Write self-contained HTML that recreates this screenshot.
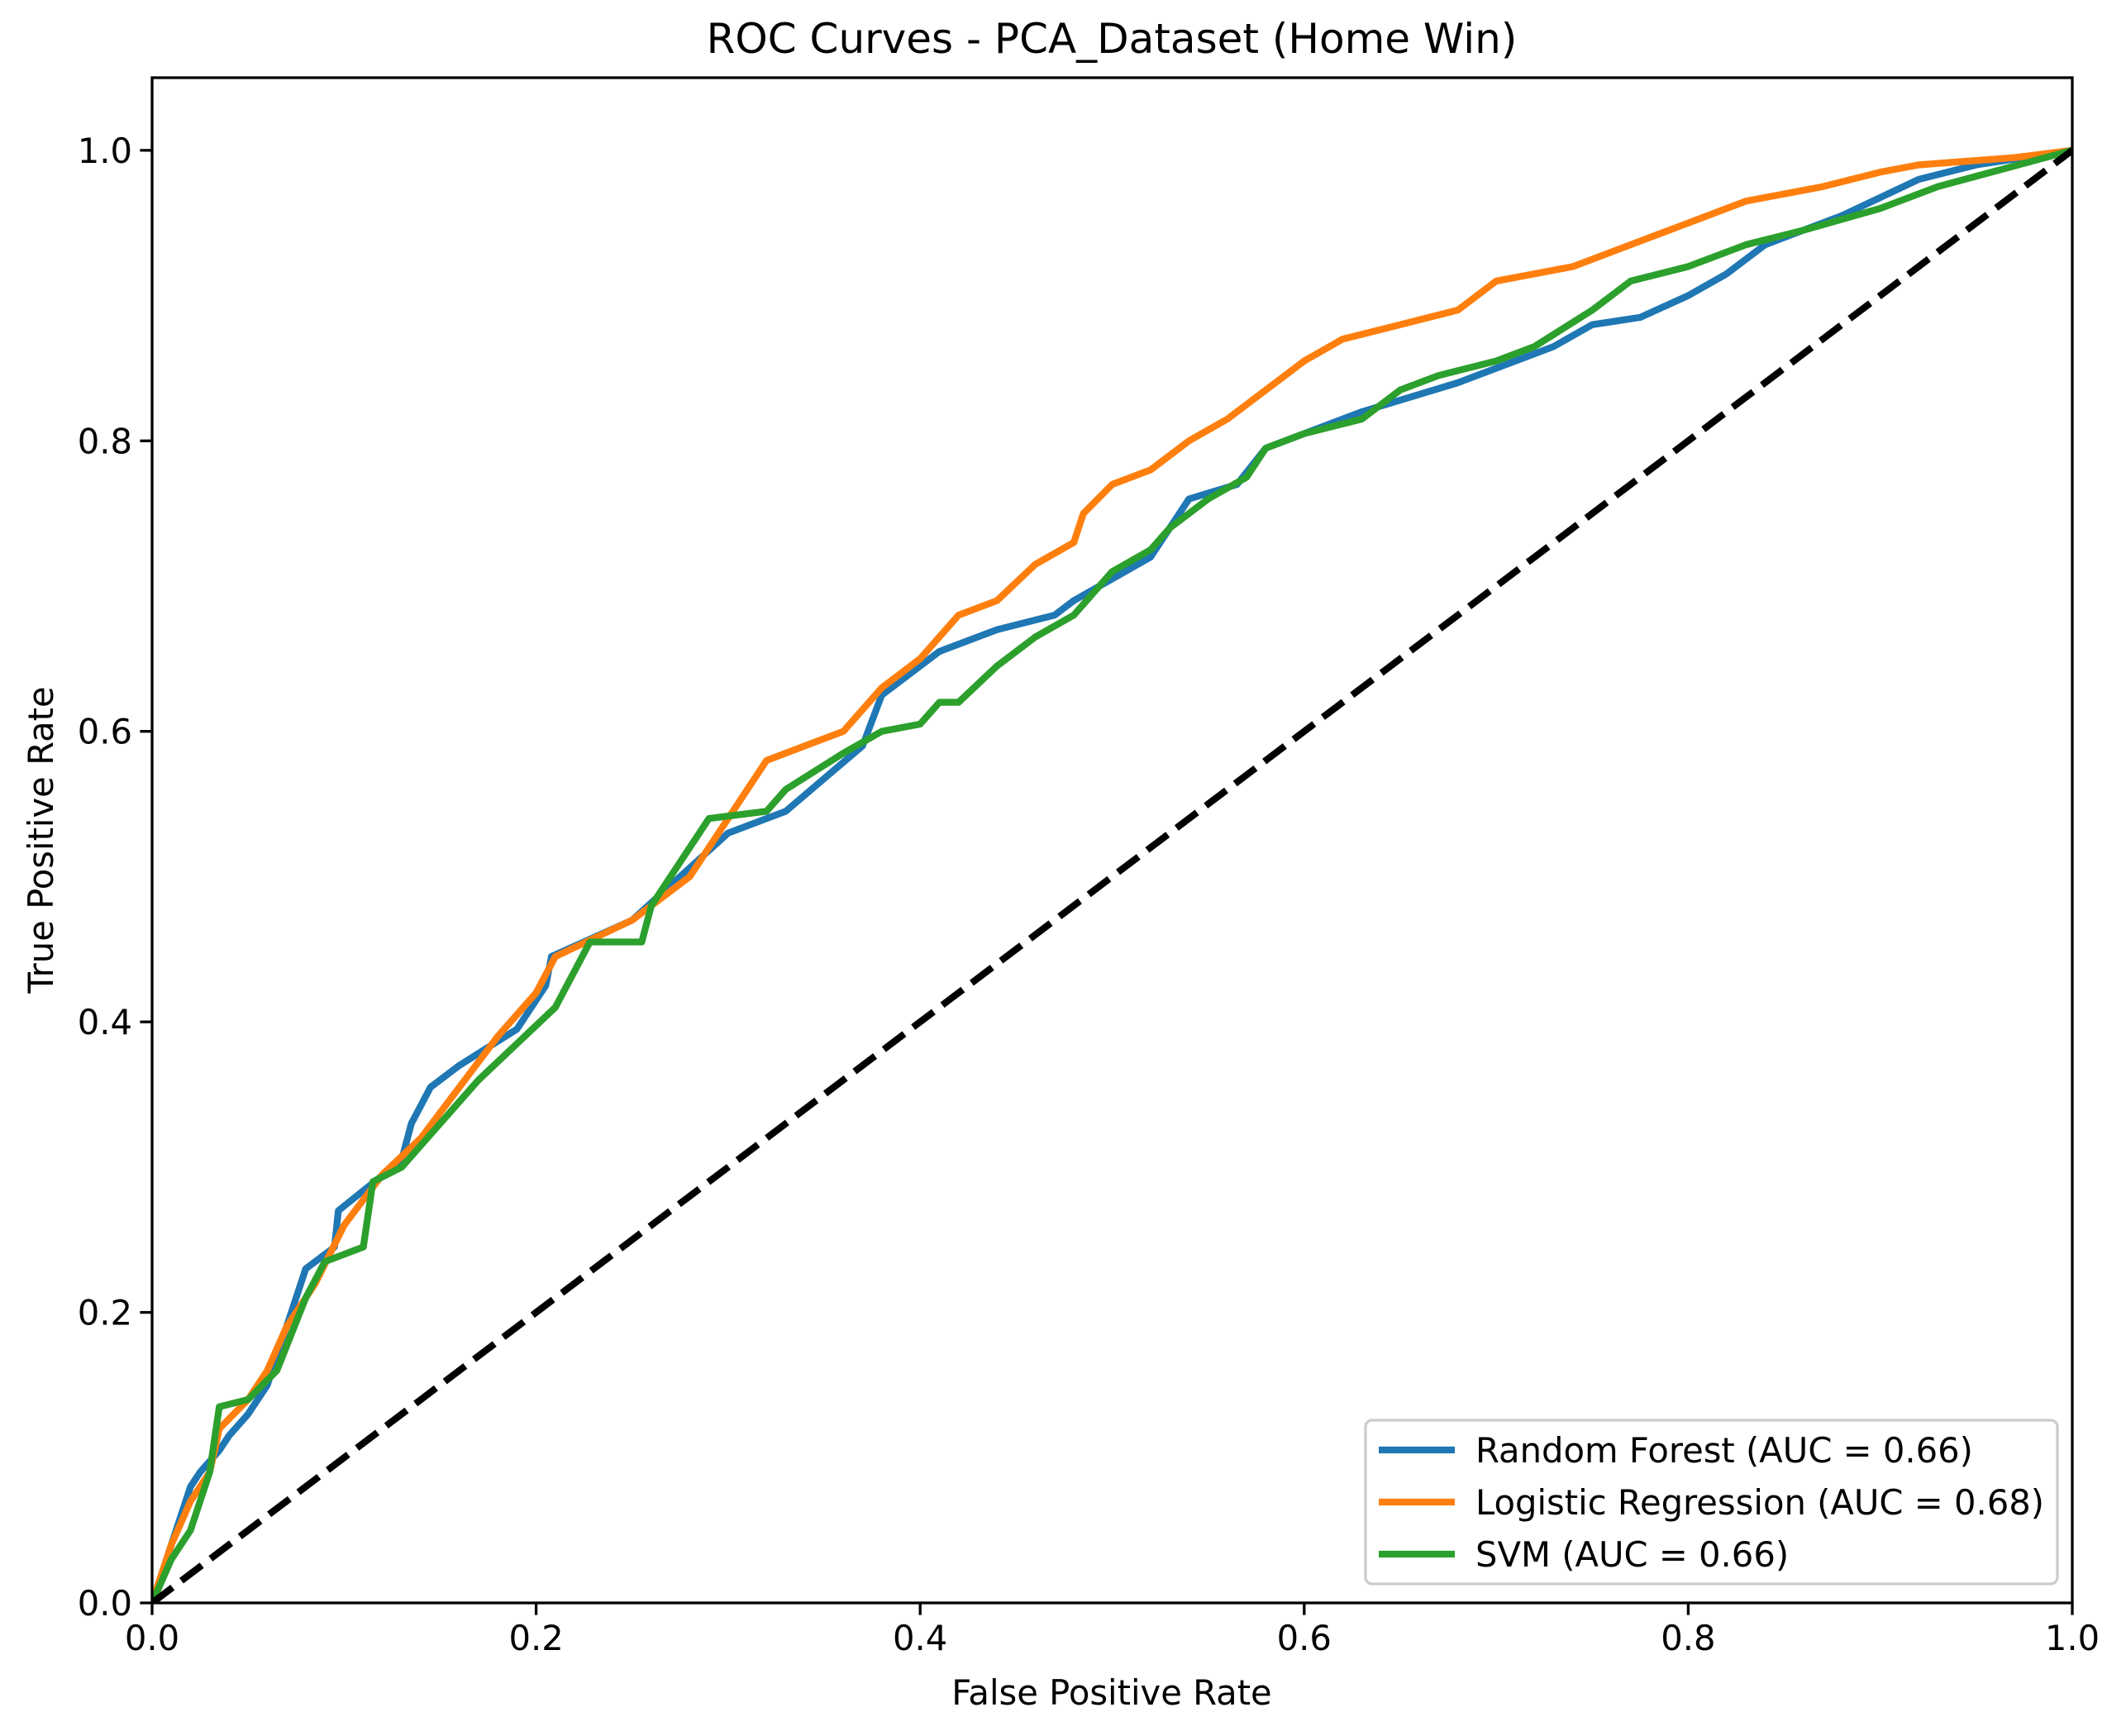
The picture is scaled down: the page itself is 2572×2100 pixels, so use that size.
<!DOCTYPE html>
<html><head><meta charset="utf-8"><style>
html,body{margin:0;padding:0;background:#fff}
svg{display:block;font-family:"DejaVu Sans","Liberation Sans",sans-serif}
</style></head><body>
<svg id="chart" xmlns="http://www.w3.org/2000/svg" width="2572" height="2100" viewBox="0 0 2572 2100">
<rect width="2572" height="2100" fill="#fff"/>
<text x="1345" y="64" font-size="50" text-anchor="middle">ROC Curves - PCA_Dataset (Home Win)</text>
<text x="1345" y="2062" font-size="41.7" text-anchor="middle">False Positive Rate</text>
<text x="64" y="1016" font-size="41.7" text-anchor="middle" transform="rotate(-90 64 1016)">True Positive Rate</text>
<g id="ticks"></g>
<g id="plot"></g>
<rect x="184" y="94" width="2323" height="1845" fill="none" stroke="#000" stroke-width="3.3"/>
<g id="legend"></g>
</svg>
<script>
const xTicks=[0,0.2,0.4,0.6,0.8,1.0];
const yTicks=[0,0.2,0.4,0.6,0.8,1.0];
const tickLabels=["0.0","0.2","0.4","0.6","0.8","1.0"];
const seriesNames=["Random Forest (AUC = 0.66)","Logistic Regression (AUC = 0.68)","SVM (AUC = 0.66)"];
const rfFpr=[0,0.02,0.025,0.035,0.04,0.05,0.06,0.07,0.08,0.095,0.097,0.13,0.135,0.145,0.16,0.19,0.205,0.208,0.25,0.3,0.33,0.37,0.38,0.41,0.44,0.47,0.48,0.5,0.52,0.54,0.565,0.58,0.63,0.68,0.73,0.75,0.775,0.8,0.82,0.84,0.88,0.92,0.95,1];
const rfTpr=[0,0.08,0.09,0.105,0.115,0.13,0.15,0.19,0.23,0.245,0.27,0.305,0.33,0.355,0.37,0.395,0.425,0.445,0.47,0.53,0.545,0.59,0.625,0.655,0.67,0.68,0.69,0.705,0.72,0.76,0.77,0.795,0.82,0.84,0.865,0.88,0.885,0.9,0.915,0.935,0.955,0.98,0.99,1];
const lrFpr=[0,0.01,0.02,0.03,0.035,0.05,0.06,0.07,0.085,0.1,0.12,0.14,0.16,0.18,0.2,0.21,0.25,0.28,0.3,0.32,0.34,0.36,0.38,0.4,0.42,0.44,0.46,0.48,0.485,0.5,0.52,0.54,0.56,0.58,0.6,0.62,0.65,0.68,0.7,0.74,0.78,0.8,0.83,0.87,0.9,0.92,0.97,1];
const lrTpr=[0,0.04,0.07,0.09,0.12,0.14,0.16,0.19,0.22,0.26,0.295,0.32,0.355,0.39,0.42,0.445,0.47,0.5,0.54,0.58,0.59,0.6,0.63,0.65,0.68,0.69,0.715,0.73,0.75,0.77,0.78,0.8,0.815,0.835,0.855,0.87,0.88,0.89,0.91,0.92,0.94,0.95,0.965,0.975,0.985,0.99,0.995,1];
const svmFpr=[0,0.01,0.02,0.03,0.035,0.05,0.065,0.08,0.09,0.11,0.115,0.13,0.15,0.17,0.19,0.21,0.22,0.228,0.255,0.26,0.275,0.29,0.32,0.33,0.36,0.38,0.4,0.41,0.42,0.44,0.46,0.48,0.5,0.52,0.53,0.55,0.57,0.58,0.6,0.63,0.65,0.67,0.7,0.72,0.75,0.77,0.8,0.83,0.86,0.9,0.93,1];
const svmTpr=[0,0.03,0.05,0.09,0.135,0.14,0.16,0.21,0.235,0.245,0.29,0.3,0.33,0.36,0.385,0.41,0.435,0.455,0.455,0.48,0.51,0.54,0.545,0.56,0.585,0.6,0.605,0.62,0.62,0.645,0.665,0.68,0.71,0.725,0.74,0.76,0.775,0.795,0.805,0.815,0.835,0.845,0.855,0.865,0.89,0.91,0.92,0.935,0.945,0.96,0.975,1];
const diagX=[0,1], diagY=[0,1];

const NS="http://www.w3.org/2000/svg";
const X0=184,X1=2507,Y0=1939,YTOP=94;
const sx=v=>X0+v*(X1-X0);
const sy=v=>Y0-v/1.05*(Y0-YTOP);
function mk(tag,attrs,parent){const e=document.createElementNS(NS,tag);for(const k in attrs)e.setAttribute(k,attrs[k]);parent.appendChild(e);return e;}
const ticks=document.getElementById('ticks');
xTicks.forEach((v,i)=>{
  const l=mk('line',{x1:sx(v),x2:sx(v),y1:Y0,y2:Y0+14.6,stroke:'#000','stroke-width':3.3},ticks);
  
  
  const t=mk('text',{x:sx(v),y:Y0+57,'font-size':41.7,'text-anchor':'middle'},ticks);
  t.textContent=tickLabels[i];
  
  
});
yTicks.forEach((v,i)=>{
  const l=mk('line',{x1:X0-14.6,x2:X0,y1:sy(v),y2:sy(v),stroke:'#000','stroke-width':3.3},ticks);
  
  
  const t=mk('text',{x:X0-24,y:sy(v)+15,'font-size':41.7,'text-anchor':'end'},ticks);
  t.textContent=tickLabels[i];
  
  
});
const plot=document.getElementById('plot');
const clip=mk('clipPath',{id:'clip'},plot);mk('rect',{x:X0,y:YTOP,width:X1-X0,height:Y0-YTOP},clip);
function line(xs,ys,color,name,dash){
  const p=mk('polyline',{points:xs.map((x,i)=>sx(x)+','+sy(ys[i])).join(' '),fill:'none',stroke:color,'stroke-width':8.3,'stroke-linejoin':'round','clip-path':'url(#clip)'},plot);
  if(dash)p.setAttribute('stroke-dasharray',dash);
  
  
}
line(rfFpr,rfTpr,'#1f77b4','random-forest-curve');
line(lrFpr,lrTpr,'#ff7f0e','logistic-regression-curve');
line(svmFpr,svmTpr,'#2ca02c','svm-curve');
line(diagX,diagY,'#000','chance-diagonal','31 13.4');
const lg=document.getElementById('legend');
const box=mk('rect',{x:1652,y:1718,width:837,height:198,rx:8,fill:'#fff','fill-opacity':0.8,stroke:'#ccc','stroke-width':3.3},lg);


const colors=['#1f77b4','#ff7f0e','#2ca02c'];
seriesNames.forEach((n,i)=>{
  const y=1754+i*63;
  const l=mk('line',{x1:1668,x2:1760,y1:y,y2:y,stroke:colors[i],'stroke-width':8.3},lg);
  
  
  const t=mk('text',{x:1785,y:y+15,'font-size':41.7},lg);
  t.textContent=n;
  
  
});
</script>
</body></html>
